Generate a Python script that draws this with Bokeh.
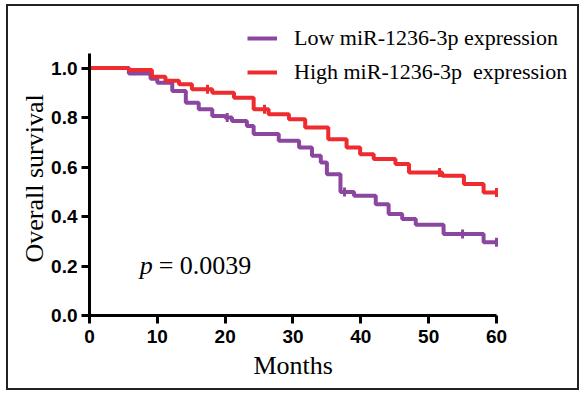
import numpy as np
from bokeh.plotting import figure
from bokeh.models import Range1d, FixedTicker, Legend, LegendItem, Label, Title
from bokeh.embed import file_html
from bokeh.resources import INLINE

# ---- data ----
low_label = "Low miR-1236-3p expression"
high_label = "High miR-1236-3p  expression"

low_t = [0, 5.8, 9.0, 10.0, 12.2, 14.2, 16.1, 18.1, 20.0, 21.0, 23.2, 24.2, 27.9, 30.9,
         32.8, 34.1, 35.0, 37.0, 39.0, 42.2, 44.1, 46.1, 48.1, 52.2, 58.1, 60.0]
low_s = [1.0, 0.978, 0.957, 0.94, 0.907, 0.86, 0.833, 0.806, 0.80, 0.786, 0.766, 0.733, 0.706, 0.679,
         0.645, 0.618, 0.571, 0.499, 0.484, 0.45, 0.41, 0.39, 0.367, 0.329, 0.296, 0.296]

high_t = [0, 5.8, 9.2, 11.2, 13.2, 15.1, 18.1, 21.3, 24.2, 26.4, 29.4, 31.8, 35.2, 37.9,
          39.9, 41.9, 45.1, 47.1, 52.0, 55.2, 58.1, 60.0]
high_s = [1.0, 0.992, 0.965, 0.948, 0.934, 0.914, 0.90, 0.88, 0.833, 0.813, 0.793, 0.76, 0.712, 0.679,
          0.652, 0.632, 0.612, 0.578, 0.565, 0.531, 0.497, 0.497]

# censored observations
low_cens_t = [20.3, 37.6, 55.0, 60.0]
low_cens_s = [0.80, 0.499, 0.329, 0.296]
high_cens_t = [17.4, 25.8, 51.6, 60.0]
high_cens_s = [0.914, 0.833, 0.578, 0.497]

x_ticks = [0, 10, 20, 30, 40, 50, 60]
x_tick_labels = ["0", "10", "20", "30", "40", "50", "60"]
y_ticks = [0.0, 0.2, 0.4, 0.6, 0.8, 1.0]
y_tick_labels = ["0.0", "0.2", "0.4", "0.6", "0.8", "1.0"]
x_axis_extent = (0, 60)
y_axis_extent = (0, 1.06)
x_title = "Months"
y_title = "Overall survival"

p_text_italic = "p"
p_text_value = "= 0.0039"

LOW_COLOR = "#8b479f"
HIGH_COLOR = "#ee2b2e"

p = figure(width=573, height=386, x_range=Range1d(0, 71.65), y_range=Range1d(0, 1.2),
           output_backend="svg", toolbar_location=None,
           min_border_left=81, min_border_right=6, min_border_top=12, min_border_bottom=77)
p.styles = {"border": "2px solid #222", "margin-left": "6px", "margin-top": "4px"}
p.xgrid.visible = False
p.ygrid.visible = False
p.outline_line_color = None
p.background_fill_color = "white"
p.border_fill_color = "white"

low_line = p.step(low_t, low_s, mode="after", line_color=LOW_COLOR, line_width=4)
high_line = p.step(high_t, high_s, mode="after", line_color=HIGH_COLOR, line_width=4)
low_c = p.scatter(low_cens_t, low_cens_s, marker="dash", angle=np.pi / 2, size=9,
                  line_color=LOW_COLOR, line_width=3)
high_c = p.scatter(high_cens_t, high_cens_s, marker="dash", angle=np.pi / 2, size=9,
                   line_color=HIGH_COLOR, line_width=3)

for ax, ticks, labels, ext in ((p.xaxis, x_ticks, x_tick_labels, x_axis_extent),
                               (p.yaxis, y_ticks, y_tick_labels, y_axis_extent)):
    ax.ticker = FixedTicker(ticks=ticks)
    ax.major_label_overrides = {t: l for t, l in zip(ticks, labels)}
    ax.bounds = ext
    ax.axis_line_width = 3
    ax.axis_line_color = "black"
    ax.major_tick_line_width = 3
    ax.major_tick_out = 8
    ax.major_tick_in = 0
    ax.minor_tick_line_color = None
    ax.major_label_text_font = "Liberation Sans"
    ax.major_label_text_font_style = "bold"
    ax.major_label_text_font_size = "19px"
    ax.major_label_text_color = "black"

p.xaxis.major_label_standoff = 6
p.yaxis.major_label_standoff = 4

# axis titles centred on the drawn axis extent (not the whole frame)
p.add_layout(Title(text=x_title, align="left", offset=164, standoff=6,
                   text_font="Liberation Serif", text_font_style="normal",
                   text_font_size="26px", text_color="black"), "below")
p.add_layout(Title(text=y_title, align="left", offset=53, standoff=0,
                   text_font="Liberation Serif", text_font_style="normal",
                   text_font_size="26px", text_color="black"), "left")

legend = Legend(items=[LegendItem(label=low_label, renderers=[low_line, low_c]),
                       LegendItem(label=high_label, renderers=[high_line, high_c])],
                location=(158, 230), glyph_width=30, glyph_height=20, label_height=20,
                spacing=8, label_standoff=17, padding=0, margin=0,
                border_line_color=None, background_fill_alpha=0,
                label_text_font="Liberation Serif", label_text_font_size="22px",
                label_text_color="black")
p.add_layout(legend)

p.add_layout(Label(x=7.4, y=0.202, text=p_text_italic, text_font="Liberation Serif",
                   text_font_style="italic", text_font_size="26px", text_baseline="alphabetic",
                   text_color="black"))
p.add_layout(Label(x=10.2, y=0.202, text=p_text_value, text_font="Liberation Serif",
                   text_font_size="26px", text_baseline="alphabetic", text_color="black"))

open("out.html", "w").write(file_html(p, INLINE))
